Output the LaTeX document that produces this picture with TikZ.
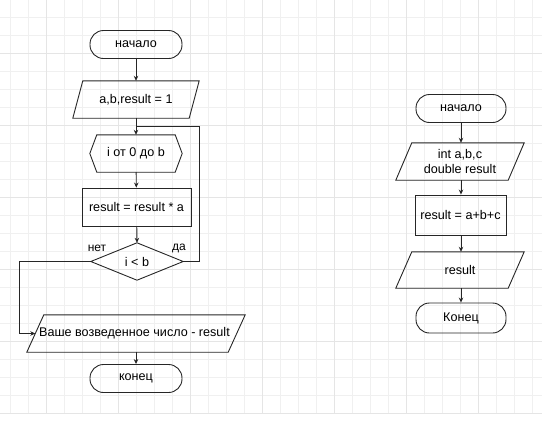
\documentclass[tikz,border=0pt]{standalone}
\usepackage{fontspec}
\setmainfont{Liberation Sans}
\usetikzlibrary{calc,arrows.meta}
\begin{document}
\begin{tikzpicture}[x=1pt,y=-1pt,
  every node/.style={font=\fontsize{12.6}{14.5}\selectfont, inner sep=0pt},
  line/.style={line width=0.9pt, draw=black!85},
  arr/.style={line, -{Stealth[length=5pt,width=4.5pt]}},
  term/.style={line, draw, rounded corners=13.5pt, minimum width=#1, minimum height=28pt},
  box/.style={minimum width=#1, minimum height=37pt},
  proc/.style={line, draw, minimum width=#1, minimum height=38pt},
  lbl/.style={font=\fontsize{12}{13}\selectfont}
]
\useasboundingbox (0,0) rectangle (542,421);
% grid
\begin{scope}
\clip (0,0) rectangle (542,414);
\foreach \k in {0,...,29} {
  \draw[black!6, line width=0.8pt] (10+18*\k,0) -- (10+18*\k,414);
}
\foreach \k in {0,...,22} {
  \draw[black!6, line width=0.8pt] (0,17+18*\k) -- (542,17+18*\k);
}
\foreach \k in {0,...,7} {
  \draw[black!10, line width=0.8pt] (46+72*\k,0) -- (46+72*\k,414);
}
\foreach \k in {0,...,5} {
  \draw[black!10, line width=0.8pt] (0,53+72*\k) -- (542,53+72*\k);
}
\end{scope}

% ---------- left flowchart ----------
\node[term=92pt] (s1) at (136,44.5) {начало};
\node[box=126pt] (p1) at (136,99.5) {a,b,result = 1};
\draw[line] ($(p1.north west)+(10,0)$) -- (p1.north east) -- ($(p1.south east)-(10,0)$) -- (p1.south west) -- cycle;
\node[box=92pt] (h1) at (136,153.5) {i от 0 до b};
\draw[line] (h1.west) -- ($(h1.north west)+(7,0)$) -- ($(h1.north east)-(7,0)$) -- (h1.east) -- ($(h1.south east)-(7,0)$) -- ($(h1.south west)+(7,0)$) -- cycle;
\node[proc=109pt] (r1) at (136.5,207) {result = result * a};
\node[box=92pt] (d1) at (137,261.5) {i < b};
\draw[line] (d1.north) -- (d1.east) -- (d1.south) -- (d1.west) -- cycle;
\node[box=218pt] (o1) at (136,333.5) {\hspace*{-3pt}Ваше возведенное число - result};
\draw[line] ($(o1.north west)+(17,0)$) -- (o1.north east) -- ($(o1.south east)-(17,0)$) -- (o1.south west) -- cycle;
\node[term=92pt] (e1) at (136,378.5) {конец};

\node[lbl] (no) at (97,248) {нет};
\node[lbl] (yes) at (179,248) {да};

\coordinate (join) at (136,126);
\coordinate (oin) at ($($(o1.north west)+(17,0)$)!0.5!(o1.south west)$);

\draw[arr] (s1) -- (p1);
\draw[arr] (p1) -- (h1);
\draw[arr] (h1) -- (r1);
\draw[arr] (r1) -- (d1.north);
\draw[line] (d1.east) -- (199,261.5) |- (join);
\draw[arr] (d1.west) -- (19,261.5) |- (oin);
\draw[arr] (o1) -- (e1);

% ---------- right flowchart ----------
\node[term=90pt] (s2) at (461,108.5) {начало};
\node[box=128pt, align=center] (p2) at (460,161.5) {int a,b,c\\double result};
\draw[line] ($(p2.north west)+(16,0)$) -- (p2.north east) -- ($(p2.south east)-(16,0)$) -- (p2.south west) -- cycle;
\node[proc=91pt, minimum height=40pt] (r2) at (460.5,215) {result = a+b+c};
\node[box=128pt, minimum height=36pt] (p3) at (460,270) {result};
\draw[line] ($(p3.north west)+(16,0)$) -- (p3.north east) -- ($(p3.south east)-(16,0)$) -- (p3.south west) -- cycle;
\node[term=90pt, minimum height=30pt] (e2) at (461,318) {Конец};

\draw[arr] (s2) -- (s2 |- p2.north);
\draw[arr] (s2 |- p2.south) -- (s2 |- r2.north);
\draw[arr] (s2 |- r2.south) -- (s2 |- p3.north);
\draw[arr] (s2 |- p3.south) -- (e2);
\end{tikzpicture}
\end{document}
